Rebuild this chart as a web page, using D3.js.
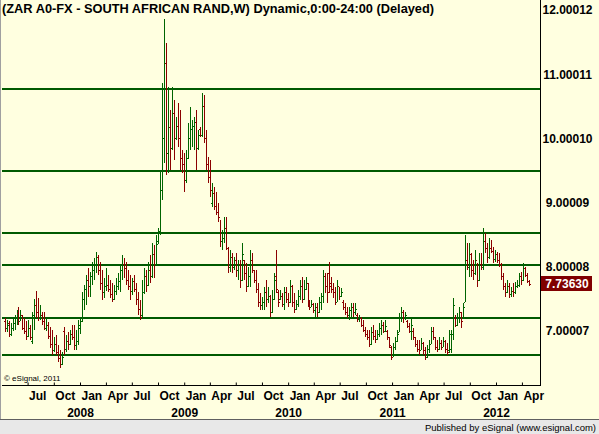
<!DOCTYPE html>
<html>
<head>
<meta charset="utf-8">
<script src="https://cdn.jsdelivr.net/npm/d3@7"></script>
<style>
body { margin: 0; background: #ffffe0; }
svg { display: block; }
text { font-family: "Liberation Sans", Arial, sans-serif; }
</style>
</head>
<body>
<div id="chart-area"></div>
<script>
/*
*    ZAR weekly bar chart
*/

var chartWidth = 599;
var chartHeight = 434;
var plot = {left: 2, right: 540, top: 0, bottom: 385};

var title = "(ZAR A0-FX - SOUTH AFRICAN RAND,W) Dynamic,0:00-24:00 (Delayed)";
var firstWeek = "2007-04-11";

var opens = [7.15,7.05,7.12,6.95,7.05,7.12,7.20,7.28,7.15,7.25,
	7.05,7.00,6.92,7.05,6.85,7.25,7.40,7.30,7.20,7.25,
	7.15,7.05,7.10,6.92,6.80,6.70,6.80,6.68,6.58,6.48,
	7.00,6.72,6.85,6.80,6.95,6.90,6.78,6.85,7.05,7.15,
	7.50,7.65,7.80,7.70,7.85,7.95,8.05,8.15,7.95,7.75,
	7.60,7.70,7.72,7.65,7.58,7.50,7.62,7.70,7.78,7.95,
	8.05,7.98,7.80,7.70,7.62,7.78,7.65,7.50,7.35,7.25,
	7.60,7.85,7.72,7.95,7.85,8.20,8.05,8.40,8.55,9.20,
	10.00,11.17,9.78,10.18,9.85,10.40,10.00,10.20,10.00,9.70,
	9.60,9.35,9.70,10.00,10.15,10.20,10.25,9.85,10.15,10.05,
	10.50,10.00,9.60,9.40,9.00,9.15,8.95,8.85,8.78,8.40,
	8.45,8.60,8.30,8.00,8.15,8.00,8.10,7.95,8.05,7.80,
	8.10,7.90,7.70,7.85,8.10,7.95,7.80,7.65,7.45,7.40,
	7.45,7.60,7.50,7.55,7.30,7.50,7.85,7.60,7.50,7.55,
	7.42,7.60,7.50,7.45,7.70,7.45,7.35,7.42,7.55,7.70,
	7.50,7.65,7.75,7.45,7.38,7.42,7.32,7.38,7.30,7.45,
	7.55,7.85,7.70,7.90,7.75,7.65,7.60,7.45,7.70,7.55,
	7.45,7.38,7.30,7.25,7.32,7.38,7.30,7.25,7.18,7.20,
	7.10,7.02,6.95,6.90,6.80,6.98,6.92,6.88,6.95,7.05,
	7.10,7.00,7.00,6.90,6.75,6.62,6.75,6.85,6.98,7.20,
	7.30,7.20,7.15,7.08,7.00,7.00,6.90,6.80,6.72,6.70,
	6.82,6.70,6.60,6.72,6.80,7.00,6.90,6.75,6.72,6.82,
	6.75,6.85,6.72,6.70,6.72,6.95,7.20,7.10,7.20,7.30,
	7.20,7.45,8.10,8.00,8.20,7.95,7.90,8.10,7.80,8.05,
	8.00,8.40,8.30,8.15,8.30,8.25,8.12,8.20,8.10,8.05,
	7.85,7.70,7.60,7.70,7.58,7.62,7.60,7.70,7.72,7.85,
	7.80,7.98,7.88,7.78];

var highs = [7.20,7.17,7.15,7.12,7.18,7.25,7.32,7.37,7.32,7.25,
	7.20,7.15,7.17,7.10,7.30,7.50,7.62,7.52,7.40,7.30,
	7.30,7.20,7.14,7.06,7.01,6.90,6.93,6.78,6.70,6.67,
	7.06,6.93,6.98,7.01,7.09,7.09,7.01,7.17,7.20,7.60,
	7.72,7.88,7.98,7.92,8.08,8.14,8.23,8.18,8.08,7.95,
	7.83,7.98,7.87,7.80,7.75,7.72,7.83,7.90,8.03,8.18,
	8.14,8.08,7.95,7.87,7.83,7.87,7.75,7.61,7.48,7.80,
	7.98,7.95,8.08,8.18,8.37,8.34,8.50,8.61,9.50,10.86,
	11.86,11.49,10.80,10.44,10.80,10.60,10.33,10.55,10.44,9.82,
	9.77,9.82,10.24,10.49,10.29,10.33,10.44,10.13,10.18,10.71,
	10.68,10.13,9.71,9.66,9.31,9.24,9.17,8.99,8.73,8.57,
	8.78,8.78,8.31,8.26,8.22,8.15,8.22,8.11,8.11,8.37,
	8.11,8.06,8.00,8.26,8.22,7.95,7.95,7.75,7.59,7.53,
	7.69,7.80,7.69,7.56,7.64,7.90,8.26,7.64,7.64,7.59,
	7.69,7.69,7.59,7.80,7.72,7.59,7.48,7.64,7.80,7.84,
	7.80,7.84,7.75,7.48,7.48,7.44,7.44,7.44,7.53,7.59,
	7.95,7.90,7.90,8.08,7.84,7.75,7.69,7.80,7.69,7.67,
	7.48,7.44,7.37,7.37,7.44,7.44,7.44,7.28,7.25,7.22,
	7.17,7.06,7.01,7.01,7.06,7.09,7.01,7.01,7.12,7.17,
	7.14,7.17,7.01,6.90,6.76,6.81,6.90,7.01,7.28,7.37,
	7.33,7.30,7.17,7.12,7.20,7.05,6.90,6.86,6.86,6.89,
	6.83,6.75,6.78,6.86,7.06,7.06,6.90,6.86,6.90,6.86,
	6.90,6.86,6.81,7.01,7.01,7.51,7.25,7.28,7.37,7.30,
	7.44,8.50,8.37,8.37,8.22,8.11,8.26,8.06,8.22,8.22,
	8.61,8.53,8.37,8.45,8.42,8.31,8.26,8.23,8.22,8.06,
	7.90,7.75,7.80,7.75,7.69,7.75,7.77,7.80,7.90,7.92,
	8.06,8.00,7.90,7.80];

var lows = [6.98,6.99,6.90,6.92,7.00,7.02,7.10,7.10,7.15,7.02,
	6.95,6.86,6.90,6.86,6.80,7.02,7.20,7.15,7.17,7.10,
	7.02,7.00,6.87,6.74,6.63,6.67,6.63,6.52,6.42,6.47,
	6.63,6.67,6.70,6.78,6.86,6.70,6.70,6.78,6.95,7.14,
	7.33,7.40,7.53,7.53,7.72,7.80,7.90,7.87,7.64,7.48,
	7.51,7.62,7.60,7.51,7.45,7.48,7.56,7.64,7.61,7.80,
	7.83,7.72,7.64,7.48,7.56,7.61,7.41,7.25,7.17,7.22,
	7.58,7.61,7.70,7.75,7.83,7.83,8.03,8.35,8.50,9.04,
	9.62,9.43,9.46,9.51,9.82,9.66,9.98,9.87,9.51,9.46,
	9.17,9.31,9.68,9.82,9.87,9.82,9.51,9.82,10.02,10.02,
	9.93,9.51,9.31,9.09,8.93,8.89,8.81,8.70,8.31,8.26,
	8.37,8.26,7.90,7.92,7.90,7.95,7.84,7.80,7.67,7.78,
	7.80,7.61,7.68,7.69,7.90,7.75,7.59,7.38,7.33,7.33,
	7.33,7.38,7.44,7.22,7.28,7.48,7.59,7.38,7.48,7.38,
	7.33,7.44,7.38,7.44,7.38,7.28,7.33,7.38,7.48,7.44,
	7.48,7.64,7.38,7.33,7.38,7.28,7.22,7.22,7.28,7.33,
	7.44,7.59,7.44,7.59,7.59,7.52,7.41,7.45,7.48,7.53,
	7.33,7.25,7.20,7.17,7.20,7.22,7.25,7.14,7.14,7.06,
	6.99,6.91,6.86,6.75,6.78,6.86,6.81,6.86,6.91,6.94,
	6.97,6.99,6.86,6.73,6.55,6.60,6.70,6.83,6.98,7.14,
	7.12,7.17,7.05,6.97,6.86,6.86,6.75,6.67,6.63,6.70,
	6.63,6.55,6.58,6.66,6.80,6.86,6.70,6.67,6.70,6.70,
	6.75,6.66,6.63,6.66,6.66,6.86,7.06,7.08,7.12,7.05,
	7.18,7.45,7.95,7.84,7.84,7.80,7.88,7.69,7.78,7.95,
	7.95,8.22,8.06,8.12,8.22,8.06,8.08,8.06,8.00,7.80,
	7.64,7.53,7.59,7.52,7.53,7.53,7.58,7.67,7.69,7.72,
	7.78,7.84,7.75,7.70];

var closes = [7.05,7.10,6.95,7.05,7.12,7.20,7.28,7.15,7.25,7.05,
	7.00,6.92,7.05,6.90,7.25,7.40,7.30,7.20,7.25,7.15,
	7.05,7.10,6.92,6.80,6.70,6.80,6.68,6.58,6.48,6.60,
	6.72,6.85,6.80,6.95,6.90,6.78,6.85,7.10,7.15,7.50,
	7.65,7.80,7.70,7.85,7.95,8.05,8.15,7.95,7.75,7.60,
	7.70,7.72,7.65,7.58,7.50,7.62,7.70,7.78,7.95,8.05,
	7.98,7.80,7.70,7.62,7.78,7.65,7.50,7.35,7.22,7.60,
	7.85,7.72,7.95,7.85,8.20,8.05,8.35,8.55,9.20,10.00,
	11.17,9.78,10.18,9.85,10.40,10.00,10.20,10.00,9.70,9.60,
	9.35,9.70,10.00,10.15,10.20,10.25,9.85,10.05,10.05,10.50,
	10.00,9.60,9.40,9.20,9.15,8.95,8.85,8.78,8.40,8.45,
	8.60,8.30,8.00,8.15,8.00,8.10,7.95,8.05,7.80,8.20,
	7.90,7.70,7.85,8.10,7.95,7.80,7.65,7.45,7.40,7.45,
	7.60,7.50,7.55,7.30,7.50,7.80,7.65,7.45,7.55,7.42,
	7.60,7.50,7.45,7.70,7.45,7.35,7.42,7.55,7.70,7.50,
	7.65,7.75,7.45,7.38,7.42,7.32,7.38,7.30,7.45,7.55,
	7.85,7.70,7.60,7.70,7.65,7.60,7.45,7.70,7.55,7.60,
	7.38,7.30,7.25,7.32,7.38,7.30,7.35,7.18,7.20,7.10,
	7.02,6.95,6.90,6.80,6.98,6.92,6.88,6.95,7.05,7.10,
	7.00,7.08,6.90,6.78,6.60,6.75,6.85,6.95,7.20,7.30,
	7.20,7.25,7.08,7.00,7.10,6.90,6.80,6.72,6.70,6.82,
	6.70,6.60,6.72,6.80,7.00,6.90,6.75,6.72,6.82,6.75,
	6.85,6.72,6.68,6.95,6.95,7.40,7.10,7.20,7.30,7.15,
	7.38,8.10,8.00,8.20,7.95,7.90,8.10,7.80,8.05,8.00,
	8.40,8.30,8.15,8.30,8.25,8.12,8.20,8.10,8.05,7.85,
	7.70,7.60,7.70,7.58,7.62,7.60,7.70,7.72,7.85,7.80,
	7.98,7.88,7.78,7.7363];

// horizontal support / resistance lines drawn on the chart
var levels = [10.77, 9.49, 8.53, 8.03, 7.20, 6.63];

var yTicks = [12, 11, 10, 9, 8, 7];
var yTickLabels = ["12.00012", "11.00011", "10.00010", "9.00009", "8.00008", "7.00007"];
var lastLabel = "7.73630";

var upColor = "#006400";
var downColor = "#8b0000";
var lineColor = "#005a00";

var parseDate = d3.timeParse("%Y-%m-%d");
var n = Math.min(opens.length, highs.length, lows.length, closes.length);
var bars = [];
for (var i = 0; i < n; i++) {
	bars.push({date: d3.timeWeek.offset(parseDate(firstWeek), i),
		open: opens[i], high: highs[i], low: lows[i], close: closes[i]});
}

var svg = d3.select("#chart-area").append("svg")
	.attr("width", chartWidth).attr("height", chartHeight);

svg.append("rect").attr("width", chartWidth).attr("height", chartHeight).attr("fill", "#ffffe0");

var x = d3.scaleTime().domain([parseDate("2008-01-01"), parseDate("2012-01-01")]).range([80, 496]);
var y = d3.scaleLinear().domain([7, 12]).range([331, 10]);

svg.append("defs").append("clipPath").attr("id", "clip")
	.append("rect").attr("x", plot.left).attr("y", plot.top)
	.attr("width", plot.right - plot.left).attr("height", plot.bottom - plot.top);

var graph = svg.append("g").attr("clip-path", "url(#clip)");

// level lines
graph.selectAll("line.level").data(levels).enter().append("line")
	.attr("class", "level")
	.attr("x1", plot.left).attr("x2", plot.right)
	.attr("y1", (d) => { return Math.round(y(d)); })
	.attr("y2", (d) => { return Math.round(y(d)); })
	.attr("stroke", lineColor).attr("stroke-width", 2);

// OHLC bars
var barG = graph.selectAll("g.bar").data(bars).enter().append("g")
	.attr("class", "bar")
	.attr("fill", (d) => { return d.close >= d.open ? upColor : downColor; });

barG.append("rect")
	.attr("x", (d) => { return Math.round(x(d.date)); })
	.attr("y", (d) => { return Math.round(y(d.high)); })
	.attr("width", 1)
	.attr("height", (d) => { return Math.max(1, Math.round(y(d.low)) - Math.round(y(d.high))); });

barG.append("rect")
	.attr("x", (d) => { return Math.round(x(d.date)) - 1; })
	.attr("y", (d) => { return Math.round(y(d.open)); })
	.attr("width", 1).attr("height", 1);

barG.append("rect")
	.attr("x", (d) => { return Math.round(x(d.date)) + 1; })
	.attr("y", (d) => { return Math.round(y(d.close)); })
	.attr("width", 1).attr("height", 1);

// left border
svg.append("line").attr("x1", 0.5).attr("x2", 0.5).attr("y1", 0).attr("y2", 419)
	.attr("stroke", "#a0a0a0");

// title
svg.append("text").attr("x", 2).attr("y", 13)
	.attr("font-size", "12.8px").attr("font-weight", "bold").attr("fill", "#000")
	.text(title);

// copyright
svg.append("text").attr("x", 4).attr("y", 381)
	.attr("font-size", "8px").attr("fill", "#000")
	.text("\u00a9 eSignal, 2011");

// right axis
var yAxis = d3.axisRight(y).tickValues(yTicks).tickSize(0)
	.tickFormat((d, i) => { return yTickLabels[i]; });
var yAxisGroup = svg.append("g").attr("transform", "translate(" + (plot.right + 0.5) + ",0)").call(yAxis);
yAxisGroup.select(".domain").attr("d", "M0," + plot.top + "V" + plot.bottom).attr("stroke", "#000");
yAxisGroup.selectAll("text").attr("x", 27).attr("text-anchor", "middle")
	.attr("font-family", "Liberation Sans, Arial, sans-serif")
	.attr("font-size", "12px").attr("font-weight", "bold").attr("fill", "#000");

// last price marker
var lastY = y(closes[n - 1]);
svg.append("rect").attr("x", plot.right + 1).attr("y", Math.round(lastY) - 8)
	.attr("width", 51).attr("height", 15).attr("fill", "#800000");
svg.append("text").attr("x", plot.right + 27).attr("y", Math.round(lastY) + 4)
	.attr("text-anchor", "middle").attr("font-size", "12px").attr("font-weight", "bold")
	.attr("fill", "#fff").text(lastLabel);

// bottom axis
var quarterTicks = d3.timeMonth.every(3).range(parseDate("2007-07-01"), parseDate("2012-05-01"));
var xAxis = d3.axisBottom(x).tickValues(quarterTicks).tickSize(-3).tickFormat(d3.timeFormat("%b"));
var xAxisGroup = svg.append("g").attr("transform", "translate(0," + (plot.bottom + 0.5) + ")").call(xAxis);
xAxisGroup.select(".domain").remove();
xAxisGroup.selectAll("line").attr("stroke", "#000");
xAxisGroup.selectAll("text").attr("x", 1).attr("y", 6).attr("text-anchor", "start")
	.attr("font-family", "Liberation Sans, Arial, sans-serif")
	.attr("font-size", "12px").attr("font-weight", "bold").attr("fill", "#000");
xAxisGroup.selectAll(".tick").filter((d) => { return d.getMonth() == 0; })
	.append("text").attr("x", 0).attr("y", 23).attr("dy", "0.71em")
	.attr("font-family", "Liberation Sans, Arial, sans-serif")
	.attr("font-size", "12px").attr("font-weight", "bold").attr("fill", "#000")
	.text(d3.timeFormat("%Y"));
svg.append("line").attr("x1", plot.left).attr("x2", plot.right + 1)
	.attr("y1", plot.bottom + 0.5).attr("y2", plot.bottom + 0.5).attr("stroke", "#000");

// footer strip
svg.append("rect").attr("x", 0).attr("y", 419).attr("width", chartWidth).attr("height", 15).attr("fill", "#e8e8e8");
svg.append("line").attr("x1", 0).attr("x2", chartWidth).attr("y1", 419.5).attr("y2", 419.5).attr("stroke", "#606060");
svg.append("text").attr("x", 596).attr("y", 431).attr("text-anchor", "end")
	.attr("font-size", "9.5px").attr("fill", "#000")
	.text("Published by eSignal (www.esignal.com)");
</script>
</body>
</html>
